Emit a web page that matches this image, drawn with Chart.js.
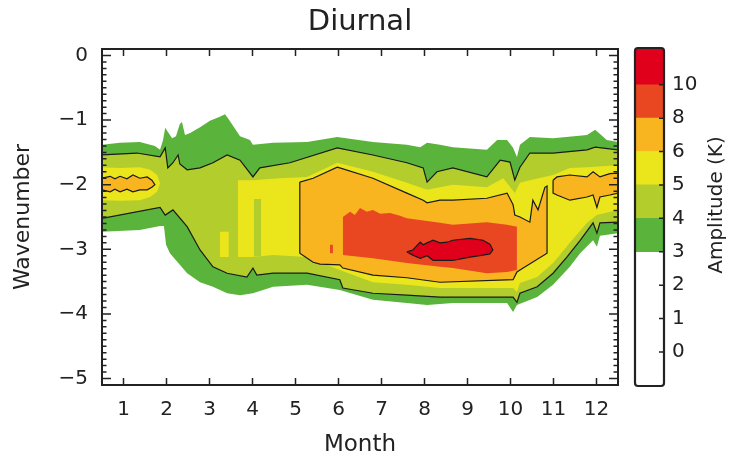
<!DOCTYPE html>
<html>
<head>
<meta charset="utf-8">
<script src="https://cdn.jsdelivr.net/npm/chart.js@4.4.1/dist/chart.umd.min.js"></script>
<style>
  html, body { margin: 0; padding: 0; background: #fff; }
  #wrap { position: relative; width: 735px; height: 464px; }
  #main { position: absolute; left: 0; top: 0; }
  #cbar { position: absolute; left: 600px; top: 0; }
</style>
</head>
<body>
<div id="wrap">
  <canvas id="main" width="735" height="464"></canvas>
  <canvas id="cbar" width="135" height="464"></canvas>
</div>
<script>
// ── axes / colour scale ─────────────────────────────────────────────
const MONTH_TICKS = [1, 2, 3, 4, 5, 6, 7, 8, 9, 10, 11, 12];
const WAVE_TICKS  = [0, -1, -2, -3, -4, -5];
const CB_TICKS    = [0, 1, 2, 3, 4, 5, 6, 8, 10];
const LEVELS      = [3, 4, 5, 6, 8, 10];
const LEVEL_COLORS = ['#5AB43C', '#B3CE2C', '#EBE51C', '#F8B51F', '#E84722', '#E1001C'];

// ── contour edges, [month, wavenumber] ──────────────────────────────
// amplitude >= 3 K
const A3_TOP = [[0.5,-1.38],[0.92,-1.35],[1.38,-1.34],[1.73,-1.40],[1.85,-1.46],[1.92,-1.31],[1.97,-1.12],[2.03,-1.18],[2.13,-1.28],[2.22,-1.25],[2.31,-1.06],[2.36,-1.03],[2.43,-1.23],[2.55,-1.20],[2.78,-1.11],[3.01,-1.01],[3.24,-0.95],[3.36,-0.91],[3.43,-0.97],[3.55,-1.09],[3.71,-1.25],[3.94,-1.31],[4.01,-1.38],[4.48,-1.35],[5.27,-1.34],[5.97,-1.26],[6.80,-1.34],[7.59,-1.38],[7.90,-1.42],[8.06,-1.35],[8.36,-1.38],[8.66,-1.42],[9.45,-1.46],[9.69,-1.31],[9.92,-1.31],[10.06,-1.43],[10.15,-1.57],[10.22,-1.38],[10.45,-1.26],[10.99,-1.28],[11.78,-1.23],[11.97,-1.15],[12.24,-1.31],[12.5,-1.34]];
const A3_BOT = [[0.5,-2.73],[1.38,-2.70],[1.85,-2.64],[1.94,-2.64],[1.99,-2.93],[2.08,-3.06],[2.31,-3.24],[2.48,-3.37],[2.78,-3.51],[3.08,-3.58],[3.41,-3.68],[3.71,-3.71],[4.01,-3.68],[4.48,-3.58],[5.27,-3.55],[6.03,-3.63],[6.80,-3.78],[7.59,-3.83],[8.06,-3.86],[8.66,-3.83],[9.92,-3.83],[10.06,-3.97],[10.15,-3.86],[10.62,-3.74],[10.99,-3.55],[11.38,-3.27],[11.62,-3.06],[11.92,-2.86],[12.01,-2.96],[12.08,-2.79],[12.5,-2.75]];
// amplitude >= 4 K
const A4_TOP = [[0.5,-1.54],[1.31,-1.51],[1.85,-1.57],[1.97,-1.43],[2.03,-1.74],[2.15,-1.66],[2.27,-1.54],[2.31,-1.68],[2.48,-1.77],[2.78,-1.74],[3.08,-1.66],[3.41,-1.54],[3.71,-1.62],[4.01,-1.88],[4.17,-1.74],[4.87,-1.66],[5.97,-1.43],[6.80,-1.54],[7.59,-1.66],[7.97,-1.74],[8.06,-1.96],[8.29,-1.80],[8.66,-1.74],[9.45,-1.88],[9.76,-1.62],[9.99,-1.65],[10.10,-1.93],[10.22,-1.73],[10.45,-1.51],[10.99,-1.51],[11.78,-1.46],[11.97,-1.42],[12.5,-1.46]];
const A4_BOT = [[0.5,-2.52],[1.85,-2.35],[1.97,-2.47],[2.15,-2.39],[2.48,-2.65],[2.78,-3.01],[3.08,-3.27],[3.41,-3.37],[3.87,-3.43],[4.01,-3.29],[4.10,-3.40],[4.48,-3.37],[5.27,-3.37],[6.03,-3.47],[6.10,-3.60],[6.80,-3.68],[7.59,-3.71],[8.36,-3.74],[10.06,-3.74],[10.15,-3.82],[10.22,-3.68],[10.62,-3.58],[10.99,-3.37],[11.31,-3.12],[11.62,-2.86],[11.92,-2.59],[12.01,-2.75],[12.08,-2.59],[12.5,-2.58]];
// amplitude >= 5 K (left patch, thin streak, main body)
const A5L_TOP = [[0.5,-1.73],[0.92,-1.74],[1.38,-1.73],[1.62,-1.77],[1.78,-1.85],[1.85,-1.98]];
const A5L_BOT = [[0.5,-2.24],[0.92,-2.25],[1.38,-2.24],[1.62,-2.19],[1.78,-2.11],[1.85,-1.98]];
const A5S_TOP = [[3.24,-2.73],[3.45,-2.73]];
const A5S_BOT = [[3.24,-3.12],[3.45,-3.12]];
const A5_TOP = [[3.66,-1.93],[4.01,-1.93],[4.64,-1.90],[5.27,-1.88],[5.97,-1.66],[6.80,-1.80],[7.59,-1.97],[8.06,-2.08],[8.36,-2.04],[8.66,-2.00],[9.45,-2.04],[9.83,-1.90],[10.10,-2.13],[10.22,-1.97],[10.45,-1.93],[10.99,-1.85],[11.38,-1.74],[11.78,-1.73],[12.5,-1.70]];
const A5_BOT = [[3.66,-3.12],[4.01,-3.12],[4.48,-3.09],[5.27,-3.12],[6.03,-3.32],[6.80,-3.51],[7.59,-3.55],[8.36,-3.60],[10.06,-3.60],[10.15,-3.66],[10.22,-3.52],[10.62,-3.43],[10.99,-3.21],[11.38,-2.90],[11.78,-2.59],[12.01,-2.47],[12.5,-2.39]];
// pocket below 5 K inside the main yellow body
const H5_TOP = [[4.03,-2.22],[4.20,-2.22]];
const H5_BOT = [[4.03,-3.11],[4.20,-3.11]];
// amplitude >= 6 K (left, main, right)
const A6L_TOP = [[0.5,-1.90],[0.69,-1.87],[0.80,-1.91],[0.92,-1.87],[1.08,-1.91],[1.22,-1.85],[1.38,-1.90],[1.55,-1.88],[1.66,-1.93],[1.73,-2.00]];
const A6L_BOT = [[0.5,-2.08],[0.69,-2.11],[0.80,-2.07],[0.92,-2.11],[1.08,-2.07],[1.22,-2.11],[1.38,-2.08],[1.55,-2.08],[1.66,-2.04],[1.73,-2.00]];
const A6_TOP = [[5.10,-1.96],[5.41,-1.90],[5.97,-1.73],[6.03,-1.74],[6.80,-1.90],[7.59,-2.13],[7.97,-2.24],[8.06,-2.28],[8.36,-2.24],[8.66,-2.24],[9.45,-2.21],[9.92,-2.13],[10.06,-2.31],[10.10,-2.47],[10.22,-2.50],[10.45,-2.58],[10.52,-2.24],[10.64,-2.39],[10.80,-2.04],[10.85,-2.02]];
const A6_BOT = [[5.10,-3.06],[5.41,-3.20],[5.57,-3.23],[6.03,-3.24],[6.10,-3.29],[6.80,-3.40],[7.59,-3.44],[8.36,-3.51],[10.06,-3.47],[10.15,-3.35],[10.22,-3.32],[10.85,-3.06]];
const A6R_TOP = [[10.99,-1.93],[11.08,-1.88],[11.38,-1.85],[11.78,-1.88],[11.92,-1.80],[12.08,-1.88],[12.31,-1.83],[12.5,-1.82]];
const A6R_BOT = [[10.99,-2.13],[11.08,-2.16],[11.38,-2.24],[11.78,-2.19],[11.92,-2.16],[12.01,-2.35],[12.08,-2.19],[12.31,-2.16],[12.5,-2.13]];
// amplitude >= 8 K
const A8_TOP = [[6.10,-2.50],[6.27,-2.42],[6.38,-2.47],[6.50,-2.36],[6.66,-2.42],[6.80,-2.39],[6.97,-2.45],[7.20,-2.44],[7.43,-2.48],[7.59,-2.52],[8.36,-2.59],[8.66,-2.62],[9.45,-2.58],[9.92,-2.62],[10.15,-2.65]];
const A8_BOT = [[6.10,-3.09],[6.80,-3.14],[7.59,-3.21],[8.36,-3.27],[8.66,-3.29],[9.45,-3.37],[9.92,-3.35],[10.15,-3.32]];
const A8S_TOP = [[5.80,-2.93],[5.87,-2.93]];
const A8S_BOT = [[5.80,-3.06],[5.87,-3.06]];
// amplitude >= 10 K
const A10_TOP = [[7.59,-3.04],[7.73,-3.01],[7.90,-2.89],[7.97,-2.93],[8.06,-2.90],[8.20,-2.86],[8.36,-2.90],[8.52,-2.89],[8.66,-2.86],[9.06,-2.83],[9.36,-2.86],[9.52,-2.92],[9.59,-3.01]];
const A10_BOT = [[7.59,-3.04],[7.73,-3.09],[7.90,-3.14],[8.06,-3.10],[8.20,-3.17],[8.66,-3.17],[9.06,-3.12],[9.36,-3.09],[9.52,-3.07],[9.59,-3.01]];

// level = colour class, layer = stacking (higher drawn later)
const REGIONS = [
  { level: 3,  layer: 3,   top: A3_TOP,  bot: A3_BOT },
  { level: 4,  layer: 4,   top: A4_TOP,  bot: A4_BOT },
  { level: 5,  layer: 5,   top: A5L_TOP, bot: A5L_BOT },
  { level: 5,  layer: 5,   top: A5S_TOP, bot: A5S_BOT },
  { level: 5,  layer: 5,   top: A5_TOP,  bot: A5_BOT },
  { level: 4,  layer: 5.5, top: H5_TOP,  bot: H5_BOT },
  { level: 6,  layer: 6,   top: A6L_TOP, bot: A6L_BOT },
  { level: 6,  layer: 6,   top: A6_TOP,  bot: A6_BOT },
  { level: 6,  layer: 6,   top: A6R_TOP, bot: A6R_BOT },
  { level: 8,  layer: 8,   top: A8_TOP,  bot: A8_BOT },
  { level: 8,  layer: 8,   top: A8S_TOP, bot: A8S_BOT },
  { level: 10, layer: 10,  top: A10_TOP, bot: A10_BOT },
];

const loop = (top, bot) => top.concat(bot.slice().reverse(), [top[0]]);
// black contour lines (4, 6 and 10 K)
const OUTLINES = [
  A4_TOP, A4_BOT,
  loop(A6L_TOP, A6L_BOT), loop(A6_TOP, A6_BOT), loop(A6R_TOP, A6R_BOT),
  loop(A10_TOP, A10_BOT),
];

const INK = '#222222';
Chart.defaults.font.family = "'DejaVu Sans', sans-serif";
Chart.defaults.color = INK;

const toXY = pts => pts.map(([x, y]) => ({ x, y }));
const minus = v => (v < 0 ? '\u2212' + (-v) : String(v));

// ── main contour panel ──────────────────────────────────────────────
const datasets = [];
REGIONS.forEach(r => {
  const color = LEVEL_COLORS[LEVELS.indexOf(r.level)];
  const order = 100 - r.layer * 5;
  datasets.push({ data: toXY(r.top), fill: '+1', backgroundColor: color,
    borderColor: 'transparent', borderWidth: 0, pointRadius: 0, order, xAxisID: 'x', yAxisID: 'y' });
  datasets.push({ data: toXY(r.bot), fill: false,
    borderColor: 'transparent', borderWidth: 0, pointRadius: 0, order, xAxisID: 'x', yAxisID: 'y' });
});
OUTLINES.forEach(pts => datasets.push({
  data: toXY(pts), fill: false, borderColor: '#1a1a1a', borderWidth: 1.2,
  pointRadius: 0, order: 0, xAxisID: 'x', yAxisID: 'y',
}));

// frame + inward ticks like the original plot
const framePlugin = {
  id: 'frame',
  afterDatasetsDraw(chart) {
    const { ctx, chartArea: a, scales: { x, y } } = chart;
    ctx.save();
    ctx.strokeStyle = INK;
    ctx.lineWidth = 1.5;
    ctx.beginPath();
    MONTH_TICKS.forEach(m => {
      const px = x.getPixelForValue(m);
      ctx.moveTo(px, a.bottom); ctx.lineTo(px, a.bottom - 7);
      ctx.moveTo(px, a.top);    ctx.lineTo(px, a.top + 7);
    });
    for (let k = -51; k <= 1; k++) {
      const py = y.getPixelForValue(k / 10);
      const len = k % 10 === 0 ? 9 : 4.5;
      ctx.moveTo(a.left, py);  ctx.lineTo(a.left + len, py);
      ctx.moveTo(a.right, py); ctx.lineTo(a.right - len, py);
    }
    ctx.stroke();
    ctx.lineWidth = 2;
    ctx.strokeRect(a.left, a.top, a.width, a.height);
    ctx.restore();
  },
};

new Chart(document.getElementById('main'), {
  type: 'line',
  data: { datasets },
  options: {
    responsive: false, animation: false, devicePixelRatio: 1,
    layout: { padding: { left: 0, top: 0, right: 117, bottom: 0 } },
    elements: { line: { tension: 0 } },
    plugins: { legend: { display: false }, tooltip: { enabled: false } },
    scales: {
      x: {
        type: 'linear', position: 'bottom', min: 0.5, max: 12.5,
        grid: { display: false, drawTicks: false }, border: { display: false },
        afterBuildTicks: s => { s.ticks = MONTH_TICKS.map(v => ({ value: v })); },
        ticks: { padding: 13, autoSkip: false, maxRotation: 0, font: { size: 20 }, color: INK },
        title: { display: true, text: 'Month', font: { size: 23 }, color: INK, padding: { top: 0, bottom: 5 } },
        afterFit: s => { s.height = 79; },
      },
      xTop: {
        type: 'linear', axis: 'x', position: 'top',
        grid: { display: false, drawTicks: false }, border: { display: false },
        ticks: { display: false },
        title: { display: true, text: 'Diurnal', font: { size: 29 }, color: INK, padding: { top: 5, bottom: 0 } },
        afterFit: s => { s.height = 49; },
      },
      y: {
        type: 'linear', position: 'left', min: -5.1, max: 0.1,
        grid: { display: false, drawTicks: false }, border: { display: false },
        afterBuildTicks: s => { s.ticks = WAVE_TICKS.map(v => ({ value: v })); },
        ticks: { padding: 14, font: { size: 20 }, color: INK, callback: v => minus(v) },
        title: { display: true, text: 'Wavenumber', font: { size: 22 }, color: INK, padding: { top: 10, bottom: 0 } },
        afterFit: s => { s.width = 102; },
      },
    },
  },
  plugins: [framePlugin],
});

// ── colour bar ──────────────────────────────────────────────────────
const CB_MIN = -1.02, CB_MAX = 9.1;
const cbSets = LEVELS.map((lv, i) => ({
  data: [[CB_TICKS.indexOf(lv), i < LEVELS.length - 1 ? CB_TICKS.indexOf(LEVELS[i + 1]) : CB_MAX]],
  backgroundColor: LEVEL_COLORS[i], borderWidth: 0,
  barPercentage: 1, categoryPercentage: 1, grouped: false,
}));

const cbarPlugin = {
  id: 'cbarFrame',
  afterDatasetsDraw(chart) {
    const { ctx, chartArea: a, scales: { y } } = chart;
    ctx.save();
    ctx.strokeStyle = INK;
    ctx.lineWidth = 1.5;
    ctx.beginPath();
    CB_TICKS.forEach((_, i) => {
      const py = y.getPixelForValue(i);
      ctx.moveTo(a.right, py); ctx.lineTo(a.right - 5, py);
    });
    ctx.stroke();
    ctx.lineWidth = 2.2;
    ctx.beginPath();
    ctx.roundRect(a.left, a.top, a.width, a.height, 3);
    ctx.stroke();
    // colour-bar title, reading upwards
    ctx.translate(117, (a.top + a.bottom) / 2 - 12);
    ctx.rotate(-Math.PI / 2);
    ctx.font = "20px 'DejaVu Sans', sans-serif";
    ctx.fillStyle = INK;
    ctx.textAlign = 'center';
    ctx.textBaseline = 'middle';
    ctx.fillText('Amplitude (K)', 0, 0);
    ctx.restore();
  },
};

new Chart(document.getElementById('cbar'), {
  type: 'bar',
  data: { labels: [''], datasets: cbSets },
  options: {
    responsive: false, animation: false, devicePixelRatio: 1,
    layout: { padding: { left: 35, top: 48, right: 0, bottom: 78 } },
    plugins: { legend: { display: false }, tooltip: { enabled: false } },
    scales: {
      x: { display: false },
      y: {
        position: 'right', min: CB_MIN, max: CB_MAX,
        grid: { display: false, drawTicks: false }, border: { display: false },
        afterBuildTicks: s => { s.ticks = CB_TICKS.map((v, i) => ({ value: i })); },
        ticks: { padding: 8, font: { size: 20 }, color: INK, callback: v => CB_TICKS[v] },
        afterFit: s => { s.width = 71; },
      },
    },
  },
  plugins: [cbarPlugin],
});
</script>
</body>
</html>
